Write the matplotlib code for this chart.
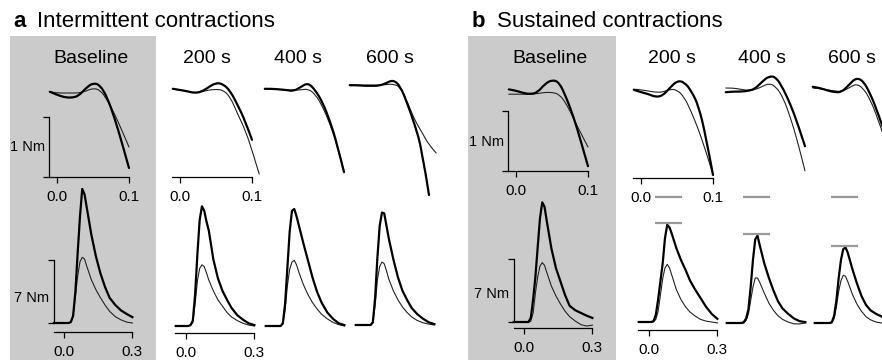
import matplotlib
matplotlib.use("Agg")
import matplotlib.pyplot as plt
from matplotlib.patches import Rectangle, PathPatch
from matplotlib.path import Path

plt.rcParams["font.family"] = ["Liberation Sans", "DejaVu Sans"]

W, H = 882, 360

# time grids (s)
t_top = [-0.01, 0.0, 0.01, 0.02, 0.03, 0.04, 0.05, 0.06, 0.07, 0.08, 0.09, 0.1, 0.11]
t_bot = [-0.045, -0.02, 0.0, 0.01, 0.02, 0.03, 0.04, 0.05, 0.06, 0.07, 0.08, 0.09, 0.1,
         0.12, 0.14, 0.16, 0.18, 0.2, 0.225, 0.25, 0.275, 0.3]

columns = ["Baseline", "200 s", "400 s", "600 s"]

# top row traces (Nm), thick and thin trace per column
a_top_thick = [
    [1.42, 1.37, 1.33, 1.32, 1.35, 1.48, 1.57, 1.53, 1.32, 0.98, 0.58, 0.15],
    [1.47, 1.45, 1.43, 1.40, 1.42, 1.50, 1.57, 1.55, 1.43, 1.20, 0.95, 0.62],
    [1.47, 1.47, 1.46, 1.45, 1.43, 1.50, 1.57, 1.45, 1.25, 0.95, 0.57, 0.08],
    [1.53, 1.53, 1.52, 1.52, 1.52, 1.56, 1.62, 1.52, 1.22, 0.88, 0.47, -0.30],
]
a_top_thin = [
    [1.42, 1.40, 1.40, 1.40, 1.40, 1.43, 1.48, 1.45, 1.28, 1.05, 0.78, 0.50],
    [1.47, 1.45, 1.43, 1.40, 1.42, 1.45, 1.46, 1.45, 1.33, 1.05, 0.80, 0.45, 0.05],
    [1.47, 1.47, 1.46, 1.45, 1.45, 1.45, 1.47, 1.38, 1.18, 0.90, 0.55, 0.10],
    [1.53, 1.53, 1.53, 1.53, 1.53, 1.54, 1.55, 1.50, 1.25, 0.95, 0.75, 0.53, 0.40],
]
b_top_thick = [
    [1.36, 1.34, 1.30, 1.28, 1.31, 1.45, 1.52, 1.48, 1.22, 0.90, 0.50, 0.08],
    [1.47, 1.43, 1.40, 1.35, 1.37, 1.50, 1.62, 1.60, 1.45, 1.20, 0.70, 0.05],
    [1.43, 1.44, 1.44, 1.45, 1.48, 1.60, 1.70, 1.68, 1.48, 1.22, 0.90, 0.53],
    [1.52, 1.50, 1.46, 1.43, 1.43, 1.55, 1.67, 1.62, 1.40, 1.10, 0.75],
]
b_top_thin = [
    [1.28, 1.28, 1.28, 1.28, 1.29, 1.31, 1.31, 1.28, 1.12, 0.87, 0.63, 0.40],
    [1.48, 1.47, 1.45, 1.43, 1.43, 1.48, 1.47, 1.35, 1.10, 0.80, 0.45, 0.06],
    [1.50, 1.50, 1.48, 1.46, 1.47, 1.52, 1.58, 1.52, 1.33, 1.00, 0.60, 0.12],
    [1.50, 1.49, 1.47, 1.45, 1.44, 1.50, 1.57, 1.50, 1.30, 1.00, 0.65],
]

# bottom row traces (Nm)
a_bot_thick = [
    [0, 0, 0, 0, 0, 0.1, 0.8, 3.5, 7.8, 11.8, 14.9, 14.3, 12.8, 9.8, 7.4, 5.5, 4.0, 2.8, 2.0, 1.4, 1.0, 0.65],
    [0, 0, 0, 0, 0.1, 0.6, 3.5, 8.0, 11.8, 13.3, 12.8, 11.6, 10.6, 7.4, 5.3, 3.9, 2.9, 2.0, 1.2, 0.7, 0.3, 0.1],
    [0, 0, 0, 0, 0, 0.3, 2.5, 6.5, 10.5, 12.8, 13.0, 12.2, 11.2, 9.2, 7.3, 5.4, 3.8, 2.6, 1.5, 0.8, 0.3, 0.1],
    [0, 0, 0, 0, 0, 0.3, 3.0, 7.5, 11.0, 12.5, 12.4, 11.0, 9.6, 7.3, 5.3, 3.8, 2.8, 1.9, 1.2, 0.7, 0.3, 0.1],
]
a_bot_thin = [
    [0, 0, 0, 0, 0, 0.1, 0.8, 3.0, 5.2, 6.8, 7.3, 7.1, 6.3, 4.8, 3.7, 2.8, 2.0, 1.3, 0.7, 0.35, 0.1, 0.0],
    [0, 0, 0, 0, 0.1, 0.4, 2.5, 5.0, 6.4, 6.8, 6.6, 5.9, 5.1, 3.9, 2.9, 2.2, 1.5, 1.0, 0.6, 0.3, 0.1, 0.0],
    [0, 0, 0, 0, 0, 0.2, 1.8, 4.5, 6.3, 7.1, 7.3, 6.8, 6.0, 4.6, 3.5, 2.6, 1.9, 1.3, 0.8, 0.4, 0.15, 0.0],
    [0, 0, 0, 0, 0, 0.2, 2.2, 5.0, 6.5, 7.0, 6.8, 6.0, 5.1, 3.8, 2.8, 2.0, 1.4, 0.9, 0.5, 0.25, 0.1, 0.0],
]
b_bot_thick = [
    [0, 0, 0, 0, 0, 0.5, 2.5, 5.0, 8.3, 11.5, 13.3, 12.8, 11.2, 8.2, 6.0, 4.5, 3.0, 1.8, 1.3, 1.0, 0.7, 0.45],
    [0, 0, 0, 0, 0.1, 0.8, 2.5, 4.5, 6.5, 9.3, 10.8, 10.5, 9.8, 8.2, 6.9, 5.8, 4.6, 3.7, 2.7, 1.7, 0.9, 0.35],
    [0, 0, 0, 0, 0, 0.1, 0.5, 1.5, 4.0, 7.0, 9.3, 9.7, 8.6, 6.6, 5.0, 3.6, 2.4, 1.6, 1.0, 0.5, 0.2, 0.1],
    [0, 0, 0, 0, 0, 0.1, 0.8, 2.5, 5.0, 7.0, 8.2, 8.4, 7.8, 6.0, 4.4, 3.0, 2.0, 1.4, 1.0, 0.7, 0.5, 0.4],
]
b_bot_thin = [
    [0, 0, 0, 0, 0, 0.1, 1.0, 3.2, 5.0, 6.2, 6.6, 6.3, 5.5, 4.0, 2.9, 2.0, 1.2, 0.6, 0.1, -0.3, -0.45, -0.35],
    [0, 0, 0, 0, 0, 0.3, 1.2, 3.0, 4.8, 6.0, 6.4, 6.0, 5.2, 3.6, 2.5, 1.7, 1.1, 0.7, 0.3, 0.1, 0.0, -0.1],
    [0, 0, 0, 0, 0, 0, 0.3, 1.0, 2.5, 4.0, 5.0, 5.0, 4.5, 3.3, 2.2, 1.4, 0.8, 0.4, 0.1, -0.1, -0.1, 0.0],
    [0, 0, 0, 0, 0, 0, 0.5, 1.8, 3.5, 4.7, 5.3, 5.2, 4.6, 3.2, 2.1, 1.3, 0.7, 0.35, 0.1, 0, 0, 0],
]

# grey reference levels in panel b (baseline peak and current peak, Nm)
b_ref_baseline = [13.9, 14.0, 14.0]
b_ref_peak = [11.0, 9.9, 8.6]

fig = plt.figure(figsize=(W / 100, H / 100), dpi=100)


def trace_axes(x0, y0, sx, sy, xlim, ylim):
    # data (0, 0) sits at pixel (x0, y0), y0 counted from the top
    left = x0 + xlim[0] * sx
    bottom = H - y0 + ylim[0] * sy
    ax = fig.add_axes([left / W, bottom / H,
                       (xlim[1] - xlim[0]) * sx / W, (ylim[1] - ylim[0]) * sy / H])
    ax.set_xlim(xlim)
    ax.set_ylim(ylim)
    ax.patch.set_alpha(0)
    for s in ax.spines.values():
        s.set_visible(False)
        s.set_linewidth(0.9)
    ax.set_xticks([])
    ax.set_yticks([])
    ax.tick_params(direction="out", length=4.5, width=0.9, pad=5, labelsize=11)
    return ax


def add_xaxis(ax, ypos, start, end, ticks, labels):
    sp = ax.spines["bottom"]
    sp.set_visible(True)
    sp.set_position(("data", ypos))
    sp.set_bounds(start, end)
    ax.set_xticks(ticks, labels)


def add_yaxis(ax, xpos, top, label, label_y):
    sp = ax.spines["left"]
    sp.set_visible(True)
    sp.set_position(("data", xpos))
    sp.set_bounds(0, top)
    ax.set_yticks([0, top], ["", ""])
    ax.text(xpos, label_y, label + " ", ha="right", va="center", fontsize=10.5)


def smooth_line(ax, t, v, color, lw):
    # quadratic bezier through the midpoints, so slow traces look like the pen traces
    pts = list(zip(t[:len(v)], v))
    verts = [pts[0]]
    codes = [Path.MOVETO]
    for i in range(1, len(pts) - 1):
        if i == len(pts) - 2:
            end = pts[-1]
        else:
            end = ((pts[i][0] + pts[i + 1][0]) / 2, (pts[i][1] + pts[i + 1][1]) / 2)
        verts += [pts[i], end]
        codes += [Path.CURVE3, Path.CURVE3]
    ax.add_patch(PathPatch(Path(verts, codes), fill=False, edgecolor=color, lw=lw,
                           clip_on=False, capstyle="round", joinstyle="round"))


def px(x, y):
    return x / W, 1 - y / H


# grey baseline boxes
for x1, x2 in [(10, 156), (468, 616)]:
    fig.add_artist(Rectangle((x1 / W, 0), (x2 - x1) / W, 1 - 36 / H,
                             transform=fig.transFigure, color="#cbcbcb", lw=0, zorder=-1))

TOP_SX, TOP_SY = 720, 60
BOT_SX, BOT_SY = 228, 9

panels = [
    dict(top_thick=a_top_thick, top_thin=a_top_thin, bot_thick=a_bot_thick, bot_thin=a_bot_thin,
         top_x0=[57, 180, 272, 357], top_y0=[177, 177, 177, 177],
         bot_x0=[64, 186, 276, 366], bot_y0=[323, 326, 326, 325],
         bot_axis=[-1.0, -0.78], ylab_top=0.5, ylab_bot=2.8,
         title_x=[91, 207, 298, 390]),
    dict(top_thick=b_top_thick, top_thin=b_top_thin, bot_thick=b_bot_thick, bot_thin=b_bot_thin,
         top_x0=[516, 641, 733, 820], top_y0=[171, 178, 178, 178],
         bot_x0=[524, 649, 737, 825], bot_y0=[322, 322, 323, 323],
         bot_axis=[-0.67, -0.9], ylab_top=0.48, ylab_bot=3.1,
         title_x=[550, 672, 762, 852]),
]

for p_i, p in enumerate(panels):
    for c in range(4):
        fig.text(*px(p["title_x"][c], 63), columns[c], ha="center", va="baseline", fontsize=14)

        ax = trace_axes(p["top_x0"][c], p["top_y0"][c], TOP_SX, TOP_SY, (-0.02, 0.125), (-0.6, 1.9))
        smooth_line(ax, t_top, p["top_thin"][c], "#222222", 0.8)
        smooth_line(ax, t_top, p["top_thick"][c], "black", 1.6)
        if c == 0:
            add_xaxis(ax, 0, -0.011, 0.1, [0, 0.1], ["0.0", "0.1"])
            add_yaxis(ax, -0.011, 1, "1 Nm", p["ylab_top"])
        elif c == 1:
            add_xaxis(ax, 0, -0.011, 0.1, [0, 0.1], ["0.0", "0.1"])

        ax = trace_axes(p["bot_x0"][c], p["bot_y0"][c], BOT_SX, BOT_SY, (-0.06, 0.32), (-2, 16.5))
        thin = p["bot_thin"][c]
        thick = p["bot_thick"][c]
        ax.plot(t_bot[:len(thin)], thin, color="#222222", lw=0.8, clip_on=False)
        ax.plot(t_bot[:len(thick)], thick, color="black", lw=1.6, clip_on=False,
                solid_joinstyle="round")
        if c == 0:
            add_xaxis(ax, p["bot_axis"][0], -0.046, 0.3, [0, 0.3], ["0.0", "0.3"])
            add_yaxis(ax, -0.046, 7, "7 Nm", p["ylab_bot"])
        elif c == 1:
            add_xaxis(ax, p["bot_axis"][1], -0.048, 0.3, [0, 0.3], ["0.0", "0.3"])
        if p_i == 1 and c > 0:
            ax.hlines([b_ref_baseline[c - 1], b_ref_peak[c - 1]], 0.025, 0.145,
                      color="#999999", lw=1.6, clip_on=False)

fig.text(*px(13, 27), "a", fontsize=16, fontweight="bold", va="baseline")
fig.text(*px(37, 27), "Intermittent contractions", fontsize=16, va="baseline")
fig.text(*px(472, 27), "b", fontsize=16, fontweight="bold", va="baseline")
fig.text(*px(497, 27), "Sustained contractions", fontsize=16, va="baseline")

fig.savefig("out.png", dpi=100)
